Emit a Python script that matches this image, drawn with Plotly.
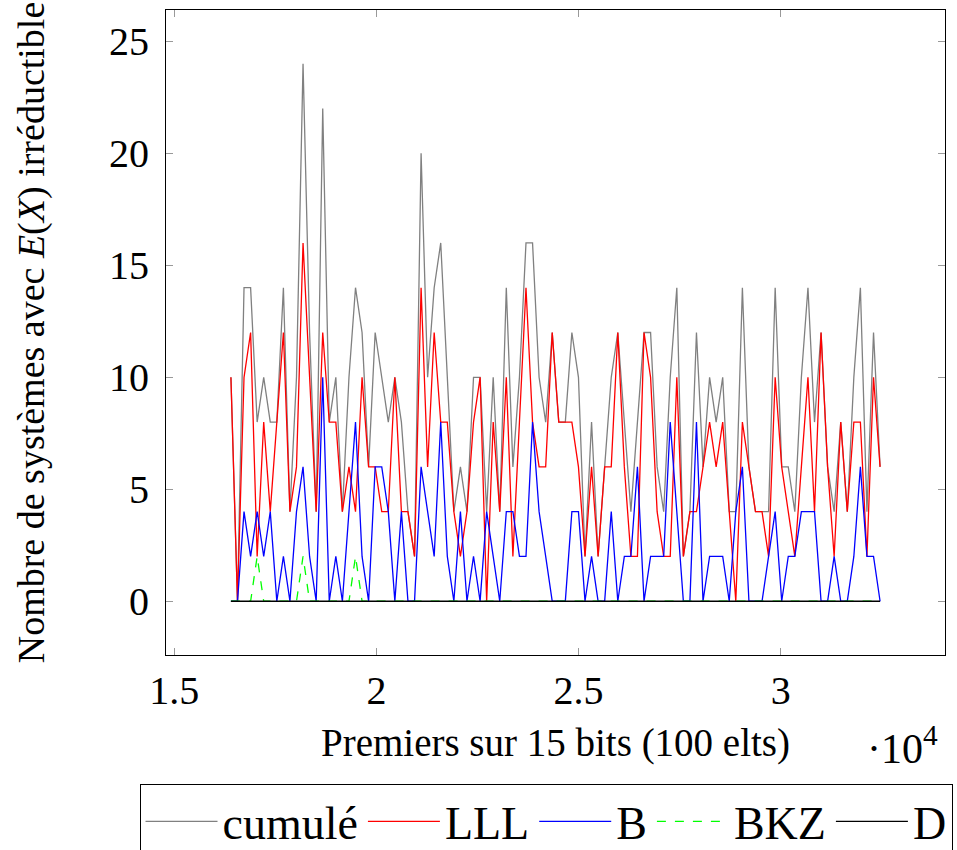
import plotly.graph_objects as go

# x: 100 primes on 15 bits (read positions)
primes = [16400, 16562, 16724, 16887, 17049, 17211, 17373, 17535, 17698, 17860,
          18022, 18184, 18346, 18509, 18671, 18833, 18995, 19157, 19320, 19482,
          19644, 19806, 19968, 20131, 20293, 20455, 20617, 20779, 20942, 21104,
          21266, 21428, 21590, 21753, 21915, 22077, 22239, 22401, 22564, 22726,
          22888, 23050, 23212, 23375, 23537, 23699, 23861, 24023, 24186, 24348,
          24510, 24672, 24834, 24997, 25159, 25321, 25483, 25645, 25808, 25970,
          26132, 26294, 26456, 26619, 26781, 26943, 27105, 27267, 27430, 27592,
          27754, 27916, 28078, 28241, 28403, 28565, 28727, 28889, 29052, 29214,
          29376, 29538, 29700, 29863, 30025, 30187, 30349, 30511, 30674, 30836,
          30998, 31160, 31322, 31485, 31647, 31809, 31971, 32133, 32296, 32458]

cumule = [10, 0, 14, 14, 8, 10, 8, 8, 14, 4,
          10, 24, 12, 4, 22, 8, 10, 4, 10, 14,
          12, 6, 12, 10, 8, 10, 8, 4, 2, 20,
          10, 14, 16, 10, 4, 6, 4, 10, 10, 4,
          10, 4, 14, 6, 10, 16, 16, 10, 8, 12,
          8, 8, 12, 10, 2, 8, 2, 6, 10, 12,
          8, 4, 8, 12, 12, 6, 4, 10, 14, 2,
          4, 12, 6, 10, 8, 10, 4, 4, 14, 6,
          4, 4, 4, 14, 6, 6, 4, 10, 14, 8,
          12, 6, 4, 8, 4, 10, 14, 4, 12, 6]

lll = [10, 0, 10, 12, 2, 8, 4, 8, 12, 4,
       6, 16, 10, 4, 12, 8, 8, 4, 6, 4,
       10, 6, 6, 4, 4, 10, 4, 4, 2, 14,
       6, 12, 8, 8, 4, 2, 4, 8, 10, 0,
       8, 4, 10, 2, 8, 14, 8, 6, 6, 12,
       8, 8, 8, 6, 2, 6, 2, 6, 6, 12,
       6, 2, 2, 12, 10, 4, 2, 2, 10, 2,
       4, 4, 6, 8, 6, 8, 4, 0, 8, 6,
       4, 4, 2, 10, 6, 4, 2, 6, 10, 4,
       12, 6, 2, 8, 4, 8, 8, 2, 10, 6]

b = [0, 0, 4, 2, 4, 2, 4, 0, 2, 0,
     4, 6, 2, 0, 10, 0, 2, 0, 4, 8,
     2, 0, 6, 6, 4, 0, 4, 0, 0, 6,
     4, 2, 8, 2, 0, 4, 0, 2, 0, 4,
     2, 0, 4, 4, 2, 2, 8, 4, 2, 0,
     0, 0, 4, 4, 0, 2, 0, 0, 4, 0,
     2, 2, 6, 0, 2, 2, 2, 8, 4, 0,
     0, 8, 0, 2, 2, 2, 0, 4, 6, 0,
     0, 0, 2, 4, 0, 2, 2, 4, 4, 4,
     0, 0, 2, 0, 0, 2, 6, 2, 2, 0]

bkz = [0, 0, 0, 0, 2, 0, 0, 0, 0, 0,
       0, 2, 0, 0, 0, 0, 0, 0, 0, 2] + [0] * 80

d = [0] * 100

series = [
    ("cumulé", cumule, "#808080", "solid"),
    ("LLL", lll, "#ff0000", "solid"),
    ("B", b, "#0000ff", "solid"),
    ("BKZ", bkz, "#00ff00", "dash"),
    ("D", d, "#000000", "solid"),
]

FONT = "Liberation Serif"

fig = go.Figure()
for name, vals, col, dash in series:
    fig.add_trace(go.Scatter(x=primes, y=vals, mode="lines", name=name,
                             line=dict(color=col, width=1.3, dash=dash)))

fig.update_layout(
    width=957, height=850,
    margin=dict(l=166, r=12, t=10, b=195, autoexpand=False),
    paper_bgcolor="white", plot_bgcolor="white",
    font=dict(family=FONT, color="black"),
    showlegend=True,
    legend=dict(orientation="h", x=-0.034, y=-0.2, xanchor="left", yanchor="top",
                bordercolor="black", borderwidth=1, bgcolor="white",
                font=dict(size=46, family=FONT), itemwidth=72, tracegroupgap=0),
    annotations=[dict(text="·10<sup>4</sup>", x=0.945, y=-0.14, xref="paper", yref="paper",
                      showarrow=False, font=dict(size=42, family=FONT),
                      xanchor="center", yanchor="middle")],
)
fig.update_xaxes(range=[14794, 34064], tickvals=[15000, 20000, 25000, 30000],
                 ticktext=["1.5", "2", "2.5", "3"], ticks="inside", ticklen=7,
                 tickcolor="#999999", showline=True, linecolor="black", linewidth=1.2,
                 mirror="ticks", showgrid=False, zeroline=False, automargin=False,
                 tickfont=dict(size=40, family=FONT),
                 title=dict(text="Premiers sur 15 bits (100 elts)", standoff=16,
                            font=dict(size=39, family=FONT)))
fig.update_yaxes(range=[-2.4, 26.4], tickvals=[0, 5, 10, 15, 20, 25],
                 ticks="inside", ticklen=7, tickcolor="#999999",
                 showline=True, linecolor="black", linewidth=1.2, mirror="ticks",
                 showgrid=False, zeroline=False, automargin=False,
                 ticklabelstandoff=8,
                 tickfont=dict(size=40, family=FONT),
                 title=dict(text="Nombre de systèmes avec <i>E</i>(<i>X</i>) irréductible",
                            standoff=52, font=dict(size=38, family=FONT)))

fig.write_html("out.html")
